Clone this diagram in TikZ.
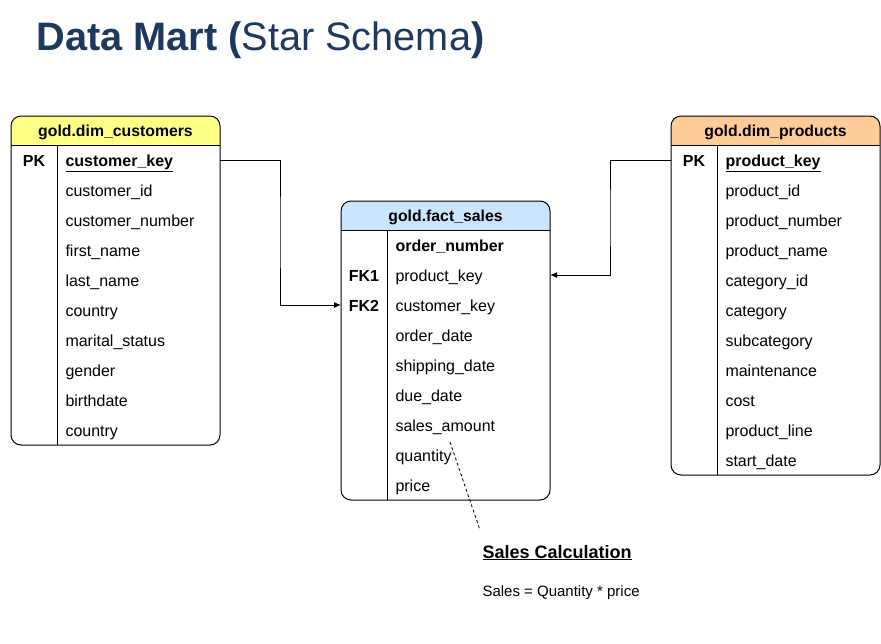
\documentclass[tikz,border=0pt]{standalone}
\usepackage{fontspec}
\setmainfont{Liberation Sans}
\usetikzlibrary{arrows.meta}
\definecolor{titlecol}{RGB}{31,56,94}
\definecolor{custfill}{RGB}{255,255,136}
\definecolor{factfill}{RGB}{204,229,255}
\definecolor{prodfill}{RGB}{255,204,153}
\begin{document}
\begin{tikzpicture}[x=1pt,y=-1pt, line width=1pt,
  field/.style={anchor=west, inner sep=0pt, text height=14pt, text depth=2pt, font=\fontsize{16}{19}\selectfont},
  keyfield/.style={field, font=\fontsize{16}{19}\selectfont\bfseries},
  keytag/.style={anchor=center, inner sep=0pt, text height=14pt, text depth=2pt, font=\fontsize{16}{19}\selectfont\bfseries},
  hdr/.style={anchor=center, inner sep=0pt, text height=14pt, text depth=2pt, font=\fontsize{15.8}{18}\selectfont\bfseries},
  frame/.style={draw, rounded corners=10pt, anchor=north west, inner sep=0pt, outer sep=0pt},
  link/.style={-{Latex[length=7pt,width=6pt]}},
  note/.style={anchor=base west, inner sep=0pt},
]
\useasboundingbox (0,0) rectangle (881,643);
\fill[white] (0,0) rectangle (881,643);

% title
\node[note, text=titlecol, font=\fontsize{39.7}{46}\selectfont] (title) at (36,50)
  {\textbf{Data Mart (}Star Schema\textbf{)}};

% ---------- dim_customers ----------
\begin{scope}
  \clip[rounded corners=10pt] (11,116) rectangle (220,445);
  \fill[custfill] (11,116) rectangle (220,145);
\end{scope}
\node[frame, minimum width=209pt, minimum height=329pt] (cust) at (11,116) {};
\draw (11,145) -- (220,145);
\draw (57,145) -- (57,445);
\node[hdr] (custh) at (115.5,130.5) {gold.dim\_customers};
\node[keytag] (cpk) at (34,160) {PK};
\node[keyfield] (ck) at (65,160) {\underline{customer\_key}};
\foreach \t [count=\i] in {customer\_id, customer\_number, first\_name, last\_name, country, marital\_status, gender, birthdate, country}
  \node[field] (c\i) at (65,{160+30*\i}) {\t};

% ---------- fact_sales ----------
\begin{scope}
  \clip[rounded corners=10pt] (341,201) rectangle (550,500);
  \fill[factfill] (341,201) rectangle (550,230);
\end{scope}
\node[frame, minimum width=209pt, minimum height=299pt] (fact) at (341,201) {};
\draw (341,230) -- (550,230);
\draw (387,230) -- (387,500);
\node[hdr] (facth) at (445.5,215.5) {gold.fact\_sales};
\node[keyfield] (fon) at (395,245) {order\_number};
\node[keytag] (ffk1) at (364,275) {FK1};
\node[field] (fpk) at (395,275) {product\_key};
\node[keytag] (ffk2) at (364,305) {FK2};
\node[field] (fck) at (395,305) {customer\_key};
\foreach \t [count=\i] in {order\_date, shipping\_date, due\_date, sales\_amount, quantity, price}
  \node[field] (f\i) at (395,{305+30*\i}) {\t};

% ---------- dim_products ----------
\begin{scope}
  \clip[rounded corners=10pt] (671,116) rectangle (880,475);
  \fill[prodfill] (671,116) rectangle (880,145);
\end{scope}
\node[frame, minimum width=209pt, minimum height=359pt] (prod) at (671,116) {};
\draw (671,145) -- (880,145);
\draw (717,145) -- (717,475);
\node[hdr] (prodh) at (775.5,130.5) {gold.dim\_products};
\node[keytag] (ppk) at (694,160) {PK};
\node[keyfield] (pk) at (725,160) {\underline{product\_key}};
\foreach \t [count=\i] in {product\_id, product\_number, product\_name, category\_id, category, subcategory, maintenance, cost, product\_line, start\_date}
  \node[field] (p\i) at (725,{160+30*\i}) {\t};

% ---------- connectors ----------
\coordinate (jl) at (280,232);
\coordinate (jr) at (610,218);
\draw[link] (cust.east |- ck.west) -| (jl) |- (fact.west |- fck.west);
\draw[link] (prod.west |- pk.west) -| (jr) |- (fact.east |- fpk.west);

% ---------- note ----------
\node[note, font=\fontsize{18}{22}\selectfont\bfseries] (calc) at (482,558) {\underline{Sales Calculation}};
\node[note, font=\fontsize{15}{18}\selectfont] (formula) at (482,596) {Sales = Quantity * price};
\coordinate (ds) at (450,442);
\coordinate (de) at (480,530);
\draw[line width=0.8pt, dash pattern=on 3pt off 2.5pt] (ds) -- (de);
\end{tikzpicture}
\end{document}
